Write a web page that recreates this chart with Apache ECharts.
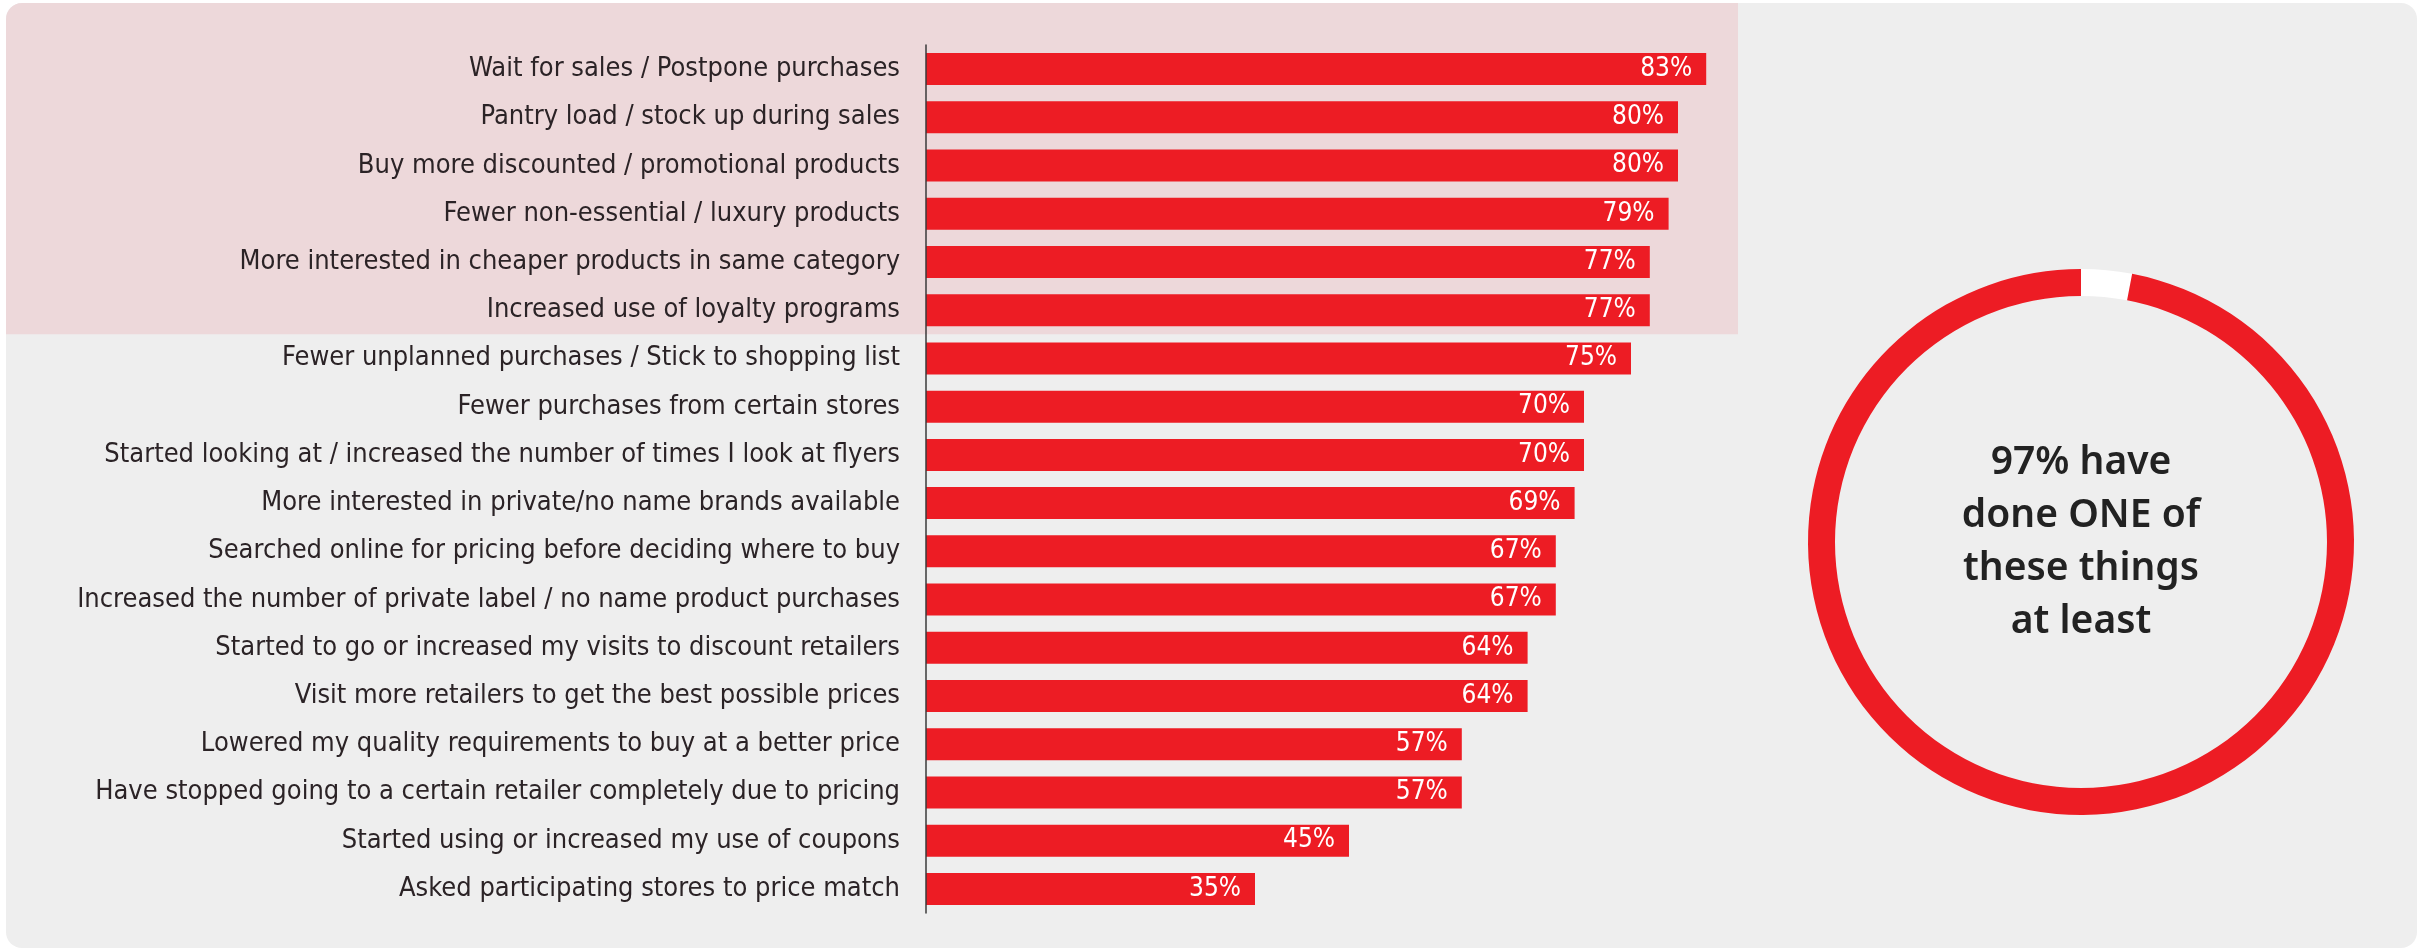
<!DOCTYPE html>
<html>
<head>
<meta charset="utf-8">
<script src="https://cdn.jsdelivr.net/npm/echarts@6/dist/echarts.min.js"></script>
<style>
html,body{margin:0;padding:0;background:#fff;}
#chart{width:2420px;height:949px;}
</style>
</head>
<body>
<div id="chart"></div>
<script>
const categories = [
  "Wait for sales / Postpone purchases",
  "Pantry load / stock up during sales",
  "Buy more discounted / promotional products",
  "Fewer non-essential / luxury products",
  "More interested in cheaper products in same category",
  "Increased use of loyalty programs",
  "Fewer unplanned purchases / Stick to shopping list",
  "Fewer purchases from certain stores",
  "Started looking at / increased the number of times I look at flyers",
  "More interested in private/no name brands available",
  "Searched online for pricing before deciding where to buy",
  "Increased the number of private label / no name product purchases",
  "Started to go or increased my visits to discount retailers",
  "Visit more retailers to get the best possible prices",
  "Lowered my quality requirements to buy at a better price",
  "Have stopped going to a certain retailer completely due to pricing",
  "Started using or increased my use of coupons",
  "Asked participating stores to price match"
];
const values = [83, 80, 80, 79, 77, 77, 75, 70, 70, 69, 67, 67, 64, 64, 57, 57, 45, 35];
const highlightedCount = 6;
const donutValues = [3, 97];
const donutText = "97% have\ndone ONE of\nthese things\nat least";

const RED = "#ED1C24";
const labelFont = "'DejaVu Sans Condensed', 'Liberation Sans Narrow', sans-serif";

const chart = echarts.init(document.getElementById('chart'));

const option = {
  animation: false,
  backgroundColor: '#ffffff',
  grid: { left: 926, top: 45, width: 940, bottom: 36, containLabel: false },
  xAxis: {
    type: 'value', min: 0, max: 100, show: false
  },
  yAxis: {
    type: 'category',
    data: categories,
    inverse: true,
    axisLine: { show: true, lineStyle: { color: '#3a3a3a', width: 1.5 } },
    axisTick: { show: false },
    axisLabel: {
      margin: 26,
      color: '#2b2326',
      fontSize: 27,
      fontFamily: labelFont
    },
    z: 5
  },
  series: [
    {
      type: 'bar',
      data: values,
      barWidth: 32,
      itemStyle: { color: RED },
      label: {
        show: true,
        position: 'insideRight',
        distance: 14,
        formatter: '{c}%',
        color: '#ffffff',
        fontSize: 26,
        fontFamily: labelFont
      },
      silent: true,
      z: 3
    },
    {
      type: 'pie',
      center: [2081, 542],
      radius: [246, 273],
      startAngle: 90,
      clockwise: true,
      silent: true,
      label: { show: false },
      labelLine: { show: false },
      emphasis: { disabled: true },
      data: [
        { value: donutValues[0], itemStyle: { color: '#ffffff' } },
        { value: donutValues[1], itemStyle: { color: RED } }
      ]
    }
  ]
};
chart.setOption(option);

// compute highlight boundary from the category scale
const c0 = chart.convertToPixel({ yAxisIndex: 0 }, categories[0]);
const c1 = chart.convertToPixel({ yAxisIndex: 0 }, categories[1]);
const band = c1 - c0;
const hlBottom = chart.convertToPixel({ yAxisIndex: 0 }, categories[highlightedCount - 1]) + band / 2;

chart.setOption({
  graphic: [
    {
      type: 'rect', z: -10, silent: true,
      shape: { x: 6, y: 3, width: 2411, height: 945, r: 16 },
      style: { fill: '#eeeeee' }
    },
    {
      type: 'rect', z: -9, silent: true,
      shape: { x: 6, y: 3, width: 1732, height: hlBottom - 3, r: [16, 0, 0, 0] },
      style: { fill: '#edd8da' }
    },
    {
      type: 'text', z: 10, silent: true,
      x: 2081, y: 542,
      style: {
        text: donutText,
        fill: '#222222',
        font: "600 39px 'Noto Sans', sans-serif",
        lineHeight: 53,
        align: 'center',
        verticalAlign: 'middle'
      }
    }
  ]
});
</script>
</body>
</html>
